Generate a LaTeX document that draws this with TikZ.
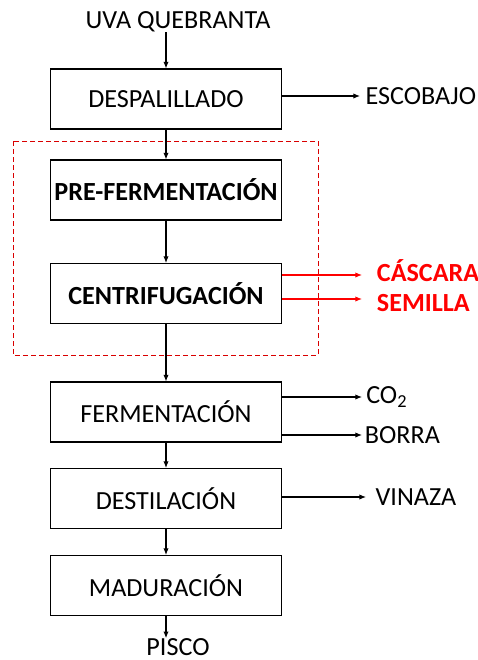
\documentclass[tikz,border=0pt]{standalone}
\usepackage{fontspec}
\setmainfont{Carlito}
\usetikzlibrary{arrows.meta}
\tikzset{
  proc/.style={draw, line width=0.8pt, minimum width=173.25pt, minimum height=45pt, inner sep=0pt, font=\fontsize{19.6}{22}\selectfont},
  key/.style={proc, font=\fontsize{19.6}{22}\selectfont\bfseries},
  lbl/.style={inner sep=0pt, font=\fontsize{19.6}{22}\selectfont},
  sideout/.style={lbl, anchor=west, inner xsep=4pt},
  waste/.style={sideout, text=red, font=\fontsize{19.6}{22}\selectfont\bfseries, inner xsep=11pt},
  flow/.style={-{Latex[length=5pt,width=4pt]}, line width=0.8pt},
}
\begin{document}
\begin{tikzpicture}[x=0.75pt,y=-0.75pt]
    \useasboundingbox (0,0) rectangle (478,660);
    % main line
    \node[lbl] (uva) at (178,22) {UVA QUEBRANTA};
    \node[proc] (desp) at (166,99) {DESPALILLADO};
    \node[key] (pre) at (166,190) {PRE-FERMENTACIÓN};
    \node[key] (cent) at (166,293.5) {CENTRIFUGACIÓN};
    \node[proc] (ferm) at (166,412) {FERMENTACIÓN};
    \node[proc] (dest) at (166,498.5) {DESTILACIÓN};
    \node[proc] (mad) at (166,585.5) {MADURACIÓN};
    \node[lbl] (pisco) at (178,647) {PISCO};
    % side outputs
    \node[sideout] (esc) at (360,96) {ESCOBAJO};
    \node[waste] (cas) at (362,271) {CÁSCARA};
    \node[waste] (sem) at (362,303) {SEMILLA};
    \node[sideout, inner xsep=3pt] (co2) at (362,397) {CO\textsubscript{2}};
    \node[sideout, inner xsep=2pt] (bor) at (362,435) {BORRA};
    \node[sideout, inner xsep=7pt] (vin) at (366,497) {VINAZA};
    \draw[red!85!black, line width=0.6pt, dash pattern=on 4pt off 2pt] (13,141) rectangle (318,355);
    \draw[flow] (uva.south -| desp.north) -- (desp.north);
    \draw[flow] (desp) -- (pre);
    \draw[flow] (pre) -- (cent);
    \draw[flow] (cent) -- (ferm);
    \draw[flow] (ferm) -- (dest);
    \draw[flow] (dest) -- (mad);
    \draw[flow] (mad) -- (pisco.north -| mad.south);
    \draw[flow] (desp.east |- esc.west) -- (esc.west);
    \draw[flow, red] ([yshift=-3pt]cent.east |- cas.west) -- ([yshift=-3pt]cas.west);
    \draw[flow, red] ([yshift=3pt]cent.east |- sem.west) -- ([yshift=3pt]sem.west);
    \draw[flow] (ferm.east |- co2.west) -- (co2.west);
    \draw[flow] (ferm.east |- bor.west) -- (bor.west);
    \draw[flow] (dest.east |- vin.west) -- (vin.west);
\end{tikzpicture}
\end{document}
